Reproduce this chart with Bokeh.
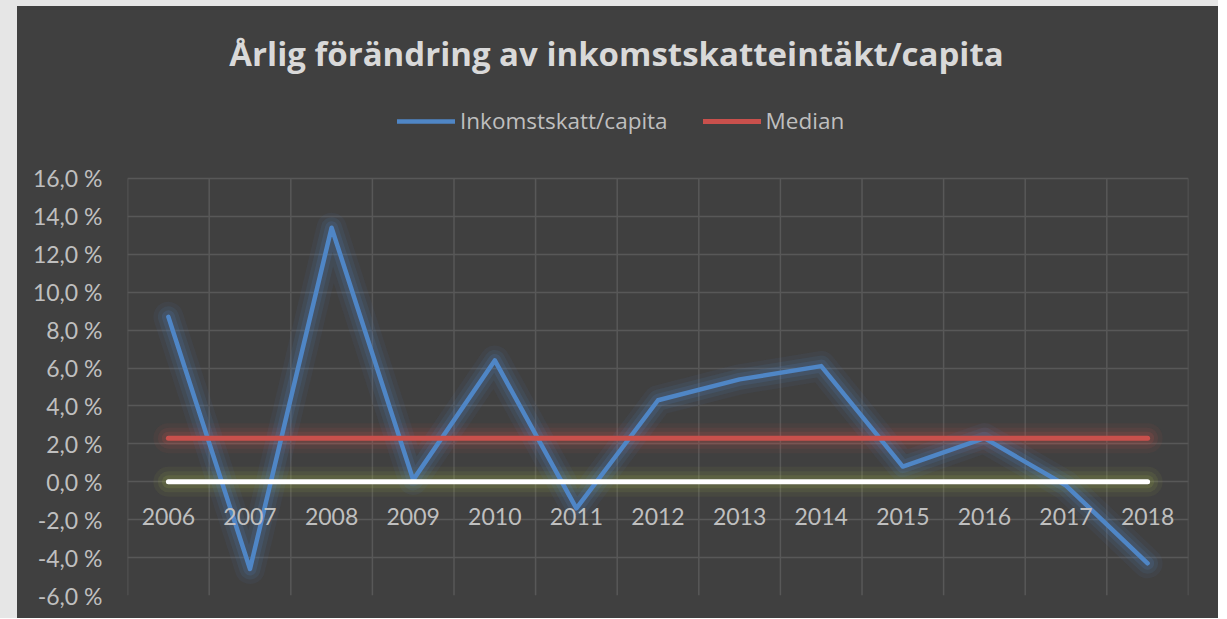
from bokeh.plotting import figure
from bokeh.models import (Range1d, FixedTicker, CustomJSTickFormatter, Legend,
                          LegendItem, Label, Spacer)
from bokeh.layouts import row, column
from bokeh.embed import file_html
from bokeh.resources import INLINE

# ---- data ----
years = [2006, 2007, 2008, 2009, 2010, 2011, 2012, 2013, 2014, 2015, 2016, 2017, 2018]
inkomstskatt = [8.7, -4.6, 13.4, 0.1, 6.4, -1.4, 4.3, 5.4, 6.1, 0.8, 2.3, -0.2, -4.3]
median = [2.3, 2.3, 2.3, 2.3, 2.3, 2.3, 2.3, 2.3, 2.3, 2.3, 2.3, 2.3, 2.3]
zero_line = [0.0, 0.0, 0.0, 0.0, 0.0, 0.0, 0.0, 0.0, 0.0, 0.0, 0.0, 0.0, 0.0]
y_ticks = [-6, -4, -2, 0, 2, 4, 6, 8, 10, 12, 14, 16]
series_names = ["Inkomstskatt/capita", "Median"]
title_text = "Årlig förändring av inkomstskatteintäkt/capita"

BG = "#404040"
GRID = "#585858"
LABEL = "#bfbfbf"
BLUE = "#4f86c6"
RED = "#c9504c"
FONT = "Lato"
FONT2 = "Open Sans"

# frame spans the full height of the figure; the space above 16 % holds title and legend
HEADROOM = 9.07
p = figure(width=1201, height=612, output_backend="svg", toolbar_location=None,
           x_range=Range1d(years[0] - 0.501, years[-1] + 0.501),
           y_range=Range1d(y_ticks[0], y_ticks[-1] + HEADROOM),
           min_border_left=110, min_border_right=30,
           min_border_top=0, min_border_bottom=23,
           styles={"background-color": BG})
p.background_fill_color = BG
p.border_fill_color = BG
p.outline_line_color = None

# horizontal grid
p.xgrid.visible = False
p.ygrid.ticker = FixedTicker(ticks=y_ticks)
p.ygrid.grid_line_color = GRID
p.ygrid.grid_line_width = 1.5

# vertical grid lines between categories, limited to the value axis span
boundaries = [y - 0.5 for y in years] + [years[-1] + 0.5]
p.segment(x0=boundaries, y0=[y_ticks[0]] * len(boundaries),
          x1=boundaries, y1=[y_ticks[-1]] * len(boundaries),
          line_color=GRID, line_width=1.5)

# y axis
p.yaxis.ticker = FixedTicker(ticks=y_ticks)
p.yaxis.formatter = CustomJSTickFormatter(
    code="return tick.toFixed(1).replace('.', ',') + ' %';")
p.yaxis.axis_line_color = None
p.yaxis.major_tick_line_color = None
p.yaxis.minor_tick_line_color = None
p.yaxis.major_label_text_color = LABEL
p.yaxis.major_label_text_font = FONT
p.yaxis.major_label_text_font_size = "23px"
p.yaxis.major_label_standoff = 19

# x axis, at y = 0
p.xaxis.ticker = FixedTicker(ticks=years)
p.xaxis.formatter = CustomJSTickFormatter(code="return tick.toFixed(0);")
p.xaxis.fixed_location = 0
p.xaxis.axis_line_color = None
p.xaxis.major_tick_line_color = None
p.xaxis.minor_tick_line_color = None
p.xaxis.major_label_text_color = LABEL
p.xaxis.major_label_text_font = FONT
p.xaxis.major_label_text_font_size = "23px"
p.xaxis.major_label_standoff = 20

# glow layers
for vals, col in ((zero_line, "#a4b84a"), (median, RED), (inkomstskatt, BLUE)):
    for w, a in ((30, 0.07), (21, 0.10), (13, 0.15)):
        p.line(years, vals, line_color=col, line_width=w, line_alpha=a,
               line_cap="round", line_join="round")

blue = p.line(years, inkomstskatt, line_color=BLUE, line_width=4.5,
              line_cap="round", line_join="round")
red = p.line(years, median, line_color=RED, line_width=5,
             line_cap="round", line_join="round")
white = p.line(years, zero_line, line_color="#ffffff", line_width=5,
               line_cap="round", line_join="round")

legend = Legend(items=[LegendItem(label=series_names[0], renderers=[blue]),
                       LegendItem(label=series_names[1], renderers=[red])],
                orientation="horizontal", location=(270, 459),
                glyph_width=58, glyph_height=20, label_standoff=5, spacing=35,
                padding=0, margin=0, border_line_color=None,
                background_fill_alpha=0, label_text_color=LABEL,
                label_text_font=FONT2, label_text_font_size="22.5px")
p.add_layout(legend)

title = Label(x=489, y=542, x_units="screen", y_units="screen", text=title_text,
              text_align="center", text_baseline="middle", text_font=FONT2,
              text_font_style="bold", text_font_size="33px", text_color="#d9d9d9")
p.add_layout(title)

layout = column(Spacer(width=1218, height=6, styles={"background-color": "#e6e6e6"}),
                row(Spacer(width=17, height=612, styles={"background-color": "#e6e6e6"}), p,
                    styles={"background-color": BG}))

open("out.html", "w").write(file_html(layout, INLINE))
